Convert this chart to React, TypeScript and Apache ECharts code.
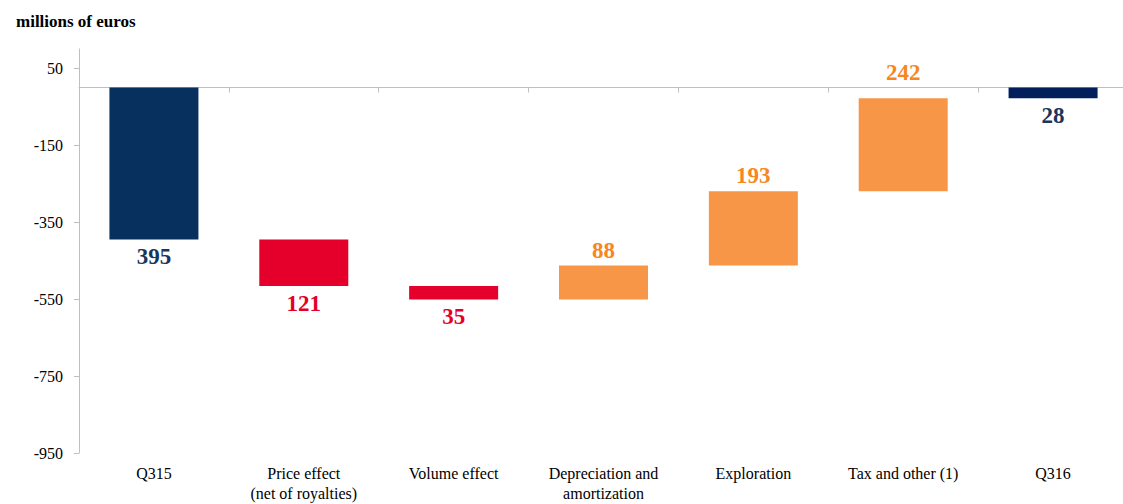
import React, { useEffect, useRef } from "react";
import * as echarts from "echarts";

const categories = [
  "Q315",
  "Price effect\n(net of royalties)",
  "Volume effect",
  "Depreciation and\namortization",
  "Exploration",
  "Tax and other (1)",
  "Q316",
];
// signed values: totals for Q315/Q316, changes for the rest
const deltas = [-395, -121, -35, 88, 193, 242, -28];
const kinds = ["total", "decrease", "decrease", "increase", "increase", "increase", "total"];
const yTicks = [50, -150, -350, -550, -750, -950];

const FONT = "Liberation Serif";
const NAVY_BAR = ["#08305F", "#001F5B"];
const NAVY_TEXT = "#17375E";
const RED = "#E4002B";
const ORANGE_BAR = "#F79646";
const ORANGE_TEXT = "#F7861E";

export default function App() {
  const ref = useRef<HTMLDivElement>(null);
  useEffect(() => {
    document.body.style.margin = "0";
    if (!ref.current) return;
    const chart = echarts.init(ref.current, undefined, { renderer: "svg" });

    const bases: number[] = [];
    const bars: any[] = [];
    let level = 0;
    let totalIdx = 0;
    deltas.forEach((d, i) => {
      const k = kinds[i];
      let base = 0;
      let bar = 0;
      let color = "";
      let tcolor = "";
      let pos = "bottom";
      if (k === "total") {
        base = 0;
        bar = d;
        level = d;
        color = NAVY_BAR[totalIdx++];
        tcolor = NAVY_TEXT;
      } else if (k === "decrease") {
        base = level;
        bar = d;
        level += d;
        color = RED;
        tcolor = RED;
      } else {
        level += d;
        base = level;
        bar = -d;
        color = ORANGE_BAR;
        tcolor = ORANGE_TEXT;
        pos = "top";
      }
      bases.push(base);
      bars.push({
        value: bar,
        itemStyle: { color },
        label: {
          show: true,
          position: pos,
          distance: i === 5 ? 14 : pos === "bottom" ? 6 : 4,
          color: tcolor,
          fontFamily: FONT,
          fontWeight: "bold",
          fontSize: 23,
          formatter: () => String(Math.abs(d)),
        },
      });
    });

    chart.setOption({
      animation: false,
      title: {
        text: "millions of euros",
        left: 11,
        top: 8,
        textStyle: { fontFamily: FONT, fontWeight: "bold", fontSize: 17, color: "#000" },
      },
      grid: { left: 79, top: 49, width: 1049, height: 404, outerBoundsMode: "none", containLabel: false },
      xAxis: [
        {
          type: "category",
          data: categories,
          position: "bottom",
          axisLine: { show: false, onZero: false },
          axisTick: { show: false },
          axisLabel: {
            interval: 0,
            margin: 10,
            fontSize: 16,
            lineHeight: 20,
            color: "#000",
            fontFamily: FONT,
          },
        },
        {
          type: "category",
          data: categories,
          position: "top",
          axisLine: { show: true, onZero: true, lineStyle: { color: "#BFBFBF", width: 1 } },
          axisTick: { show: true, inside: true, length: 5, lineStyle: { color: "#BFBFBF" } },
          axisLabel: { show: false },
        },
      ],
      yAxis: {
        type: "value",
        min: -950,
        max: 100,
        splitLine: { show: false },
        axisLine: { show: true, lineStyle: { color: "#BFBFBF" } },
        axisTick: { show: true, length: 5, lineStyle: { color: "#BFBFBF" }, customValues: yTicks },
        axisLabel: {
          customValues: yTicks,
          margin: 16,
          fontSize: 16,
          color: "#000",
          fontFamily: FONT,
        },
      },
      series: [
        {
          type: "bar",
          stack: "w",
          xAxisIndex: 0,
          barWidth: 89,
          itemStyle: { color: "transparent" },
          emphasis: { disabled: true },
          data: bases,
        },
        {
          type: "bar",
          stack: "w",
          xAxisIndex: 0,
          barWidth: 89,
          data: bars,
        },
      ],
    });
    return () => chart.dispose();
  }, []);
  return (
    <div
      ref={ref}
      style={{ position: "absolute", left: 0, top: 0, width: 1123, height: 504 }}
    />
  );
}
